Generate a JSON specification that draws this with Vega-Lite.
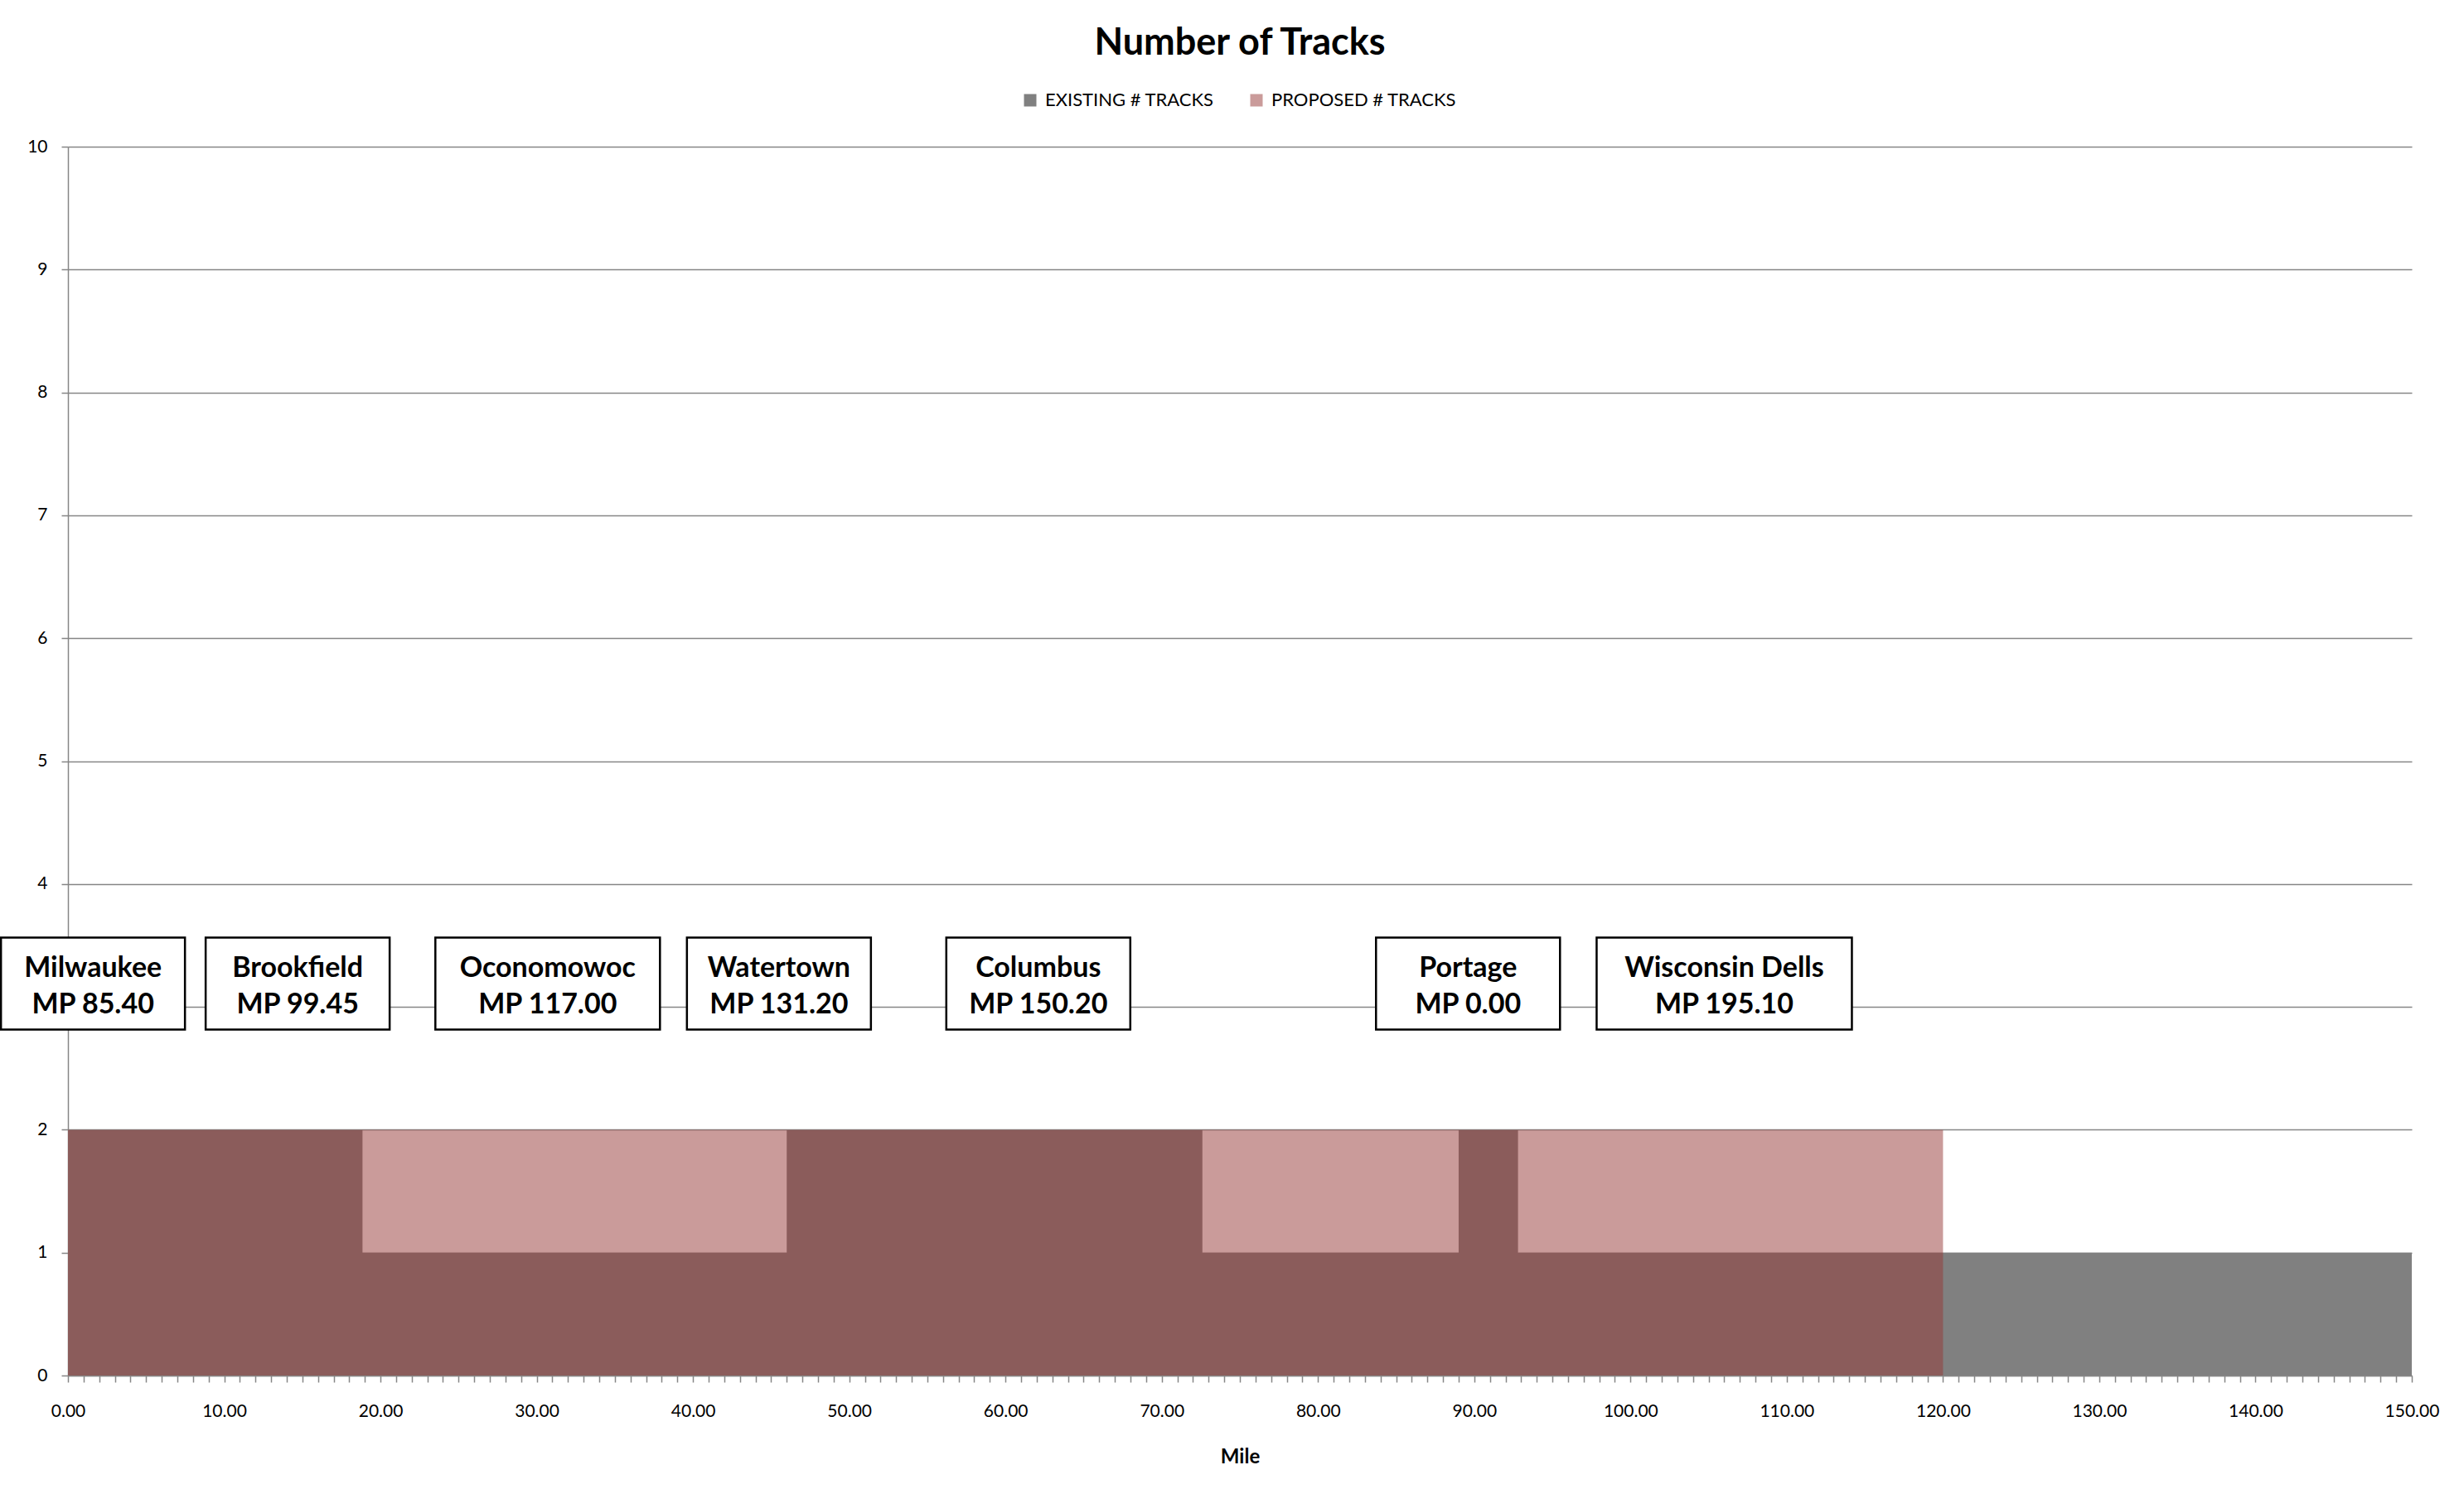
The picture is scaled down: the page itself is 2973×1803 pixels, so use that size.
{
  "$schema": "https://vega.github.io/schema/vega-lite/v6.json",
  "width": 2828,
  "height": 1483,
  "autosize": {"type": "none"},
  "padding": {"left": 82, "top": 177, "right": 63, "bottom": 143},
  "background": "white",
  "title": {
    "text": "Number of Tracks",
    "font": "Lato",
    "fontSize": 45,
    "fontWeight": "bold",
    "color": "black",
    "anchor": "middle",
    "offset": 35
  },
  "config": {
    "view": {"stroke": null},
    "font": "Lato"
  },
  "datasets": {
    "tracks": [
      {"mile": 0, "series": "EXISTING # TRACKS", "tracks": 2},
      {"mile": 18.85, "series": "EXISTING # TRACKS", "tracks": 1},
      {"mile": 46.0, "series": "EXISTING # TRACKS", "tracks": 2},
      {"mile": 72.6, "series": "EXISTING # TRACKS", "tracks": 1},
      {"mile": 89.0, "series": "EXISTING # TRACKS", "tracks": 2},
      {"mile": 92.8, "series": "EXISTING # TRACKS", "tracks": 1},
      {"mile": 150, "series": "EXISTING # TRACKS", "tracks": 1},
      {"mile": 0, "series": "PROPOSED # TRACKS", "tracks": 2},
      {"mile": 120, "series": "PROPOSED # TRACKS", "tracks": 2}
    ],
    "stations": [
      {"name": "Milwaukee", "label": "Milwaukee\nMP 85.40", "mile": 1.6},
      {"name": "Brookfield", "label": "Brookfield\nMP 99.45", "mile": 14.7},
      {"name": "Oconomowoc", "label": "Oconomowoc\nMP 117.00", "mile": 30.7},
      {"name": "Watertown", "label": "Watertown\nMP 131.20", "mile": 45.5},
      {"name": "Columbus", "label": "Columbus\nMP 150.20", "mile": 62.1},
      {"name": "Portage", "label": "Portage\nMP 0.00", "mile": 89.6},
      {"name": "Wisconsin Dells", "label": "Wisconsin Dells\nMP 195.10", "mile": 106.0}
    ]
  },
  "layer": [
    {
      "data": {"name": "tracks"},
      "mark": {"type": "area", "interpolate": "step-after", "line": false},
      "encoding": {
        "x": {
          "field": "mile",
          "type": "quantitative",
          "scale": {"domain": [0, 150], "nice": false, "zero": false},
          "axis": {
            "title": "Mile",
            "titleFont": "Lato",
            "titleFontSize": 24,
            "titleFontWeight": "bold",
            "titleColor": "black",
            "titlePadding": 33,
            "tickCount": 150,
            "labelExpr": "datum.value % 10 === 0 ? format(datum.value, '.2f') : ''",
            "labelOverlap": false,
            "labelFlush": false,
            "labelFont": "Lato",
            "labelFontSize": 21,
            "labelColor": "black",
            "labelPadding": 24,
            "tickSize": 8,
            "tickColor": "#868686",
            "tickWidth": 1.5,
            "domainColor": "#868686",
            "domainWidth": 1.5,
            "grid": false
          }
        },
        "y": {
          "field": "tracks",
          "type": "quantitative",
          "stack": null,
          "scale": {"domain": [0, 10], "nice": false},
          "axis": {
            "title": null,
            "values": [0, 1, 2, 3, 4, 5, 6, 7, 8, 9, 10],
            "format": "d",
            "labelFont": "Lato",
            "labelFontSize": 21,
            "labelColor": "black",
            "labelPadding": 17,
            "tickSize": 8,
            "tickColor": "#868686",
            "tickWidth": 1.5,
            "domainColor": "#868686",
            "domainWidth": 1.5,
            "grid": true,
            "gridColor": "#868686",
            "gridWidth": 1.5
          }
        },
        "color": {
          "field": "series",
          "type": "nominal",
          "scale": {"domain": ["EXISTING # TRACKS", "PROPOSED # TRACKS"], "range": ["#808080", "#953735"]},
          "legend": {
            "title": null,
            "orient": "none",
            "direction": "horizontal",
            "legendX": 1150,
            "legendY": -67,
            "symbolType": "square",
            "symbolSize": 225,
            "symbolStrokeWidth": 0,
            "labelFont": "Lato",
            "labelFontSize": 22,
            "labelColor": "black",
            "labelOffset": 7,
            "labelLimit": 0,
            "columnPadding": 40
          }
        },
        "opacity": {
          "field": "series",
          "type": "nominal",
          "scale": {"domain": ["EXISTING # TRACKS", "PROPOSED # TRACKS"], "range": [1, 0.5]}
        },
        "order": {"field": "series"}
      }
    },
    {
      "data": {"name": "stations"},
      "transform": [{"filter": "datum.name !== 'Oconomowoc' && datum.name !== 'Wisconsin Dells'"}],
      "mark": {"type": "rect", "width": 222, "height": 111, "fill": "white", "stroke": "black", "strokeWidth": 2.5},
      "encoding": {
        "x": {"field": "mile", "type": "quantitative"},
        "y": {"datum": 3.19, "type": "quantitative"}
      }
    },
    {
      "data": {"name": "stations"},
      "transform": [{"filter": "datum.name === 'Oconomowoc'"}],
      "mark": {"type": "rect", "width": 271, "height": 111, "fill": "white", "stroke": "black", "strokeWidth": 2.5},
      "encoding": {
        "x": {"field": "mile", "type": "quantitative"},
        "y": {"datum": 3.19, "type": "quantitative"}
      }
    },
    {
      "data": {"name": "stations"},
      "transform": [{"filter": "datum.name === 'Wisconsin Dells'"}],
      "mark": {"type": "rect", "width": 308, "height": 111, "fill": "white", "stroke": "black", "strokeWidth": 2.5},
      "encoding": {
        "x": {"field": "mile", "type": "quantitative"},
        "y": {"datum": 3.19, "type": "quantitative"}
      }
    },
    {
      "data": {"name": "stations"},
      "mark": {"type": "text", "font": "Lato", "fontSize": 34, "fontWeight": "bold", "color": "black", "lineBreak": "\n", "lineHeight": 44, "align": "center", "baseline": "middle", "dy": -18},
      "encoding": {
        "x": {"field": "mile", "type": "quantitative"},
        "y": {"datum": 3.19, "type": "quantitative"},
        "text": {"field": "label"}
      }
    }
  ]
}
